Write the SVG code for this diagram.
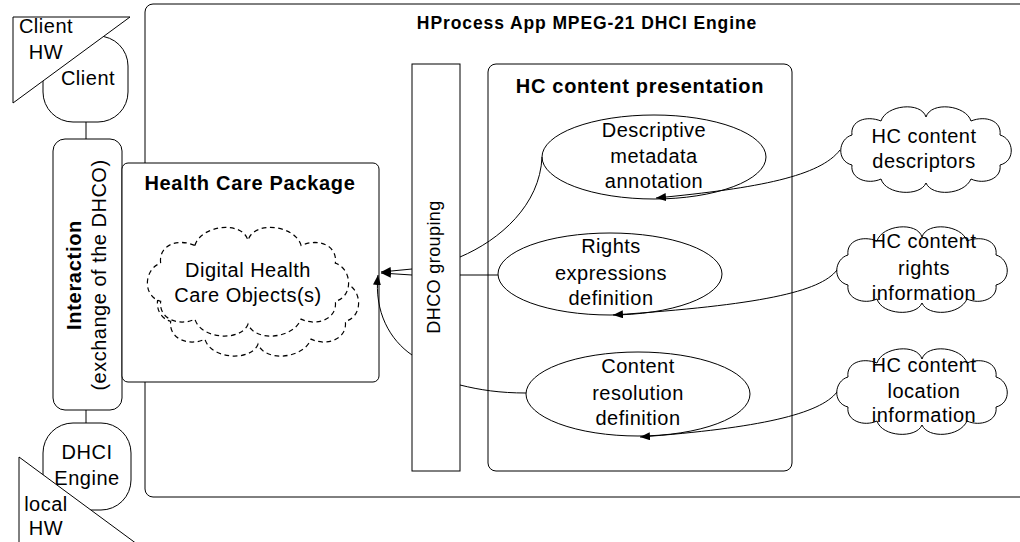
<svg xmlns="http://www.w3.org/2000/svg" width="1020" height="542" viewBox="0 0 1020 542">
  <style>
    .box { fill: #fff; stroke: #000; stroke-width: 1; }
    .dash { fill: #fff; stroke: #000; stroke-width: 1; stroke-dasharray: 4 3; }
    .edge { fill: none; stroke: #000; stroke-width: 1; }
    text { font-family: "Liberation Sans", Arial, sans-serif; fill: #000; }
    .t { font-size: 20px; letter-spacing: 0.5px; text-anchor: middle; }
    .tb { font-size: 20px; font-weight: bold; letter-spacing: 0.7px; text-anchor: middle; }
    .ts { font-size: 18px; letter-spacing: 0.4px; text-anchor: middle; }
    .title { font-size: 17.5px; font-weight: bold; letter-spacing: 0.9px; text-anchor: middle; }
  </style>
  <defs>
    <!-- generic cloud outline, centred on 0,0, about 170 x 85 -->
    <path id="cloud" d="M -45,-28 C -40,-44 -5,-48 0,-32 C 5,-48 40,-44 45,-28 C 60,-34 76,-28 74,-14 C 88,-10 90,12 74,16 C 76,30 58,36 45,30 C 38,46 6,48 0,34 C -6,48 -40,46 -45,30 C -58,36 -76,30 -74,16 C -90,12 -88,-10 -74,-14 C -76,-28 -60,-34 -45,-28 Z"/>
    <marker id="arrow" viewBox="0 0 10 8" refX="10" refY="4" markerWidth="10" markerHeight="8" orient="auto" markerUnits="userSpaceOnUse">
      <path d="M0,0 L10,4 L0,8 z" fill="#000"/>
    </marker>
  </defs>

  <!-- engine frame -->
  <g id="engine">
    <rect class="box" x="145" y="4" width="900" height="493" rx="8"/>
    <text class="title" x="587" y="29">HProcess App MPEG-21 DHCI Engine</text>
  </g>

  <!-- client side -->
  <g id="client">
    <rect class="box" x="43" y="36" width="85" height="86" rx="30"/>
    <text class="t" x="88" y="85">Client</text>
  </g>
  <g id="client-hw">
    <polygon class="box" points="13,17 130,17 13,103"/>
    <text class="t" x="46" y="33">Client</text>
    <text class="t" x="46" y="59">HW</text>
  </g>

  <g id="dhci-engine">
    <rect class="box" x="43" y="423" width="88" height="87" rx="30"/>
    <text class="t" x="87" y="459">DHCI</text>
    <text class="t" x="87" y="485">Engine</text>
  </g>
  <g id="local-hw">
    <polygon class="box" points="19,457 19,620 240,620"/>
    <text class="t" x="46" y="511">local</text>
    <text class="t" x="46" y="535">HW</text>
  </g>

  <g id="interaction">
    <rect class="box" x="53" y="139" width="69" height="271" rx="12"/>
    <text class="tb" transform="translate(81,275) rotate(-90)">Interaction</text>
    <text class="t" transform="translate(106,275) rotate(-90)">(exchange of the DHCO)</text>
  </g>

  <g id="health-care-package">
    <rect class="box" x="122" y="163" width="257" height="219" rx="6"/>
    <text class="tb" x="250" y="190">Health Care Package</text>
  </g>

  <g id="dhco">
    <use href="#cloud" class="dash" transform="translate(258,301) scale(1.18,1.27)"/>
    <use href="#cloud" class="dash" transform="translate(248,281) scale(1.18,1.27)"/>
    <text class="t" x="248" y="277">Digital Health</text>
    <text class="t" x="248" y="302">Care Objects(s)</text>
  </g>

  <g id="dhco-grouping">
    <rect class="box" x="412" y="64" width="48" height="407"/>
    <text class="ts" transform="translate(440,267) rotate(-90)">DHCO grouping</text>
  </g>

  <g id="hc-content-presentation">
    <rect class="box" x="488" y="64" width="304" height="407" rx="8"/>
    <text class="tb" x="640" y="93">HC content presentation</text>
  </g>

  <g id="descriptive-metadata">
    <ellipse class="box" cx="654" cy="157" rx="112" ry="42"/>
    <text class="t" x="654" y="137">Descriptive</text>
    <text class="t" x="654" y="163">metadata</text>
    <text class="t" x="654" y="188">annotation</text>
  </g>

  <g id="rights-expressions">
    <ellipse class="box" cx="610" cy="274" rx="112" ry="41"/>
    <text class="t" x="611" y="253">Rights</text>
    <text class="t" x="611" y="280">expressions</text>
    <text class="t" x="611" y="305">definition</text>
  </g>

  <g id="content-resolution">
    <ellipse class="box" cx="638" cy="394" rx="112" ry="42"/>
    <text class="t" x="638" y="373">Content</text>
    <text class="t" x="638" y="400">resolution</text>
    <text class="t" x="638" y="425">definition</text>
  </g>

  <g id="hc-content-descriptors">
    <use href="#cloud" class="box" transform="translate(926,149)"/>
    <text class="t" x="924" y="143">HC content</text>
    <text class="t" x="924" y="168">descriptors</text>
  </g>

  <g id="hc-content-rights">
    <use href="#cloud" class="box" transform="translate(922,269)"/>
    <text class="t" x="924" y="248">HC content</text>
    <text class="t" x="924" y="275">rights</text>
    <text class="t" x="924" y="300">information</text>
  </g>

  <g id="hc-content-location">
    <use href="#cloud" class="box" transform="translate(922,391)"/>
    <text class="t" x="924" y="372">HC content</text>
    <text class="t" x="924" y="398">location</text>
    <text class="t" x="924" y="422">information</text>
  </g>

  <!-- connectors -->
  <g id="connectors">
    <line class="edge" x1="86" y1="122" x2="86" y2="139"/>
    <line class="edge" x1="86" y1="410" x2="86" y2="423"/>

    <path class="edge" d="M 840,150 C 820,176 760,188 656,198" marker-end="url(#arrow)"/>
    <path class="edge" d="M 837,270 C 820,292 760,305 613,315" marker-end="url(#arrow)"/>
    <path class="edge" d="M 837,392 C 820,414 760,428 640,437" marker-end="url(#arrow)"/>

    <path class="edge" d="M 542,157 C 540,205 500,240 460,257"/>
    <path class="edge" d="M 498,275 L 460,275"/>
    <path class="edge" d="M 526,393 C 500,393 480,390 460,385"/>

    <path class="edge" d="M 412,269 L 381,272" marker-end="url(#arrow)"/>
    <path class="edge" d="M 412,275 L 381,273" marker-end="url(#arrow)"/>
    <path class="edge" d="M 412,355 C 390,340 374,312 378,275" marker-end="url(#arrow)"/>
  </g>
</svg>
